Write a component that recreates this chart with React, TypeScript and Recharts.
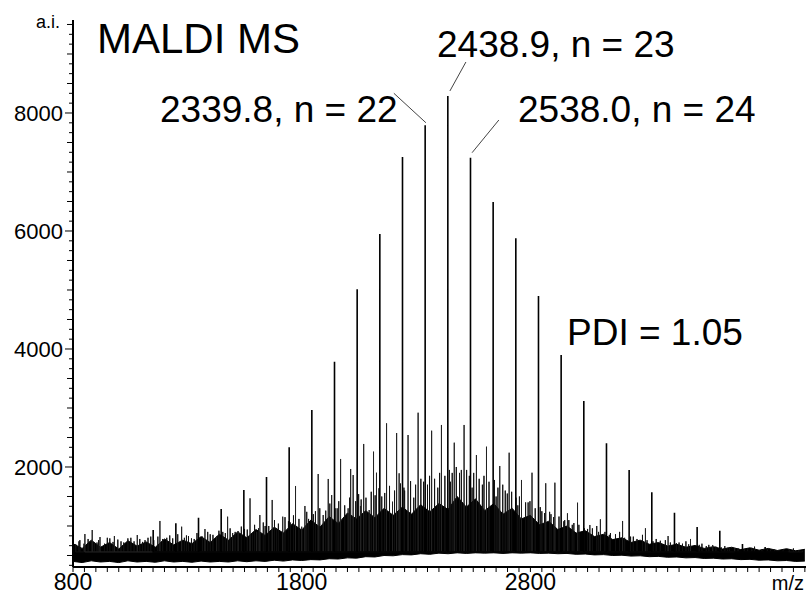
import { ComposedChart, Area, Line, XAxis, YAxis, ReferenceLine } from 'recharts';

// main oligomer series: m/z and intensity (a.i.)
const MAIN_MZ = [
  1150.6, 1249.7, 1348.8, 1447.9, 1547.0, 1646.1, 1745.2, 1844.3, 1943.4, 2042.5,
  2141.6, 2240.7, 2339.8, 2438.9, 2538.0, 2637.1, 2736.2, 2835.3, 2934.4, 3033.5,
  3132.6, 3231.7, 3330.8, 3429.9, 3529.0, 3628.1, 3727.2, 3826.3, 3925.4,
];
const MAIN_AI = [
  932, 1046, 1141, 1288, 1610, 1830, 2334, 2966, 3785, 5012,
  5949, 7254, 7791, 8288, 7242, 6491, 5876, 4898, 3898, 3119,
  2402, 1949, 1571, 1225, 983, 920, 695, 644, 564,
];

// side series / adduct peaks
const SIDE_MZ = [
  852, 884, 918, 981, 1081, 1180, 1275, 1377, 1428, 1476, 1498, 1522, 1574, 1603, 1617,
  1671, 1717, 1773, 1800, 1814, 1872, 1894, 1916, 1931, 1970, 2003, 2014, 2025, 2057,
  2071, 2095, 2114, 2127, 2171, 2197, 2215, 2226, 2265, 2309, 2368, 2411, 2467, 2510,
  2564, 2608, 2666, 2707, 2761, 2807, 2867, 2907, 2962, 3006, 3060, 3106, 3203, 3303,
  3402, 3500, 3597, 3693,
];
const SIDE_AI = [
  864, 932, 813, 830, 847, 1085, 988, 949, 830, 1158, 881, 915, 1469, 903, 1186,
  1441, 1158, 1678, 988, 1339, 1881, 1186, 1797, 1525, 2136, 1300, 1966, 1864, 1339,
  2390, 1271, 2260, 1903, 2740, 1412, 2576, 1893, 2542, 2920, 2615, 2712, 2412, 2712,
  2203, 2344, 2017, 2242, 1780, 1903, 1724, 1734, 1215, 1395, 1017, 1113, 1085, 961,
  830, 780, 678, 627,
];

// small spikes sticking out of the chemical noise
const SPIKE_MZ = [
  812, 826, 830, 848, 866, 893, 905, 912, 938, 950, 961, 975, 996, 1010, 1022,
  1040, 1053, 1067, 1092, 1104, 1115, 1128, 1140, 1153, 1171, 1192, 1210, 1223, 1236,
  1258, 1287, 1296, 1305, 1318, 1330, 1342, 1366, 1389, 1400, 1412, 1438, 1455, 1466,
  1487, 1509, 1536, 1550, 1562, 1585, 1594, 1611, 1632, 1640, 1656, 1681, 1690, 1698,
  1727, 1742, 1750, 1764, 1788, 1822, 1830, 1851, 1860, 1879, 1905, 1923, 1946, 1955,
  1962, 1988, 2009, 2036, 2049, 2060, 2081, 2104, 2121, 2138, 2150, 2163, 2184, 2206,
  2232, 2247, 2250, 2276, 2290, 2298, 2321, 2333, 2350, 2359, 2381, 2395, 2403, 2426,
  2446, 2450, 2458, 2476, 2490, 2498, 2521, 2533, 2545, 2552, 2576, 2590, 2597, 2619,
  2643, 2650, 2658, 2679, 2690, 2699, 2718, 2737, 2745, 2752, 2779, 2790, 2798, 2821,
  2843, 2850, 2862, 2884, 2890, 2901, 2925, 2946, 2950, 2968, 2983, 2990, 3012, 3036,
  3050, 3071, 3090, 3098, 3126, 3145, 3150, 3172, 3190, 3212, 3238, 3250, 3266, 3290,
  3310, 3336, 3350, 3368, 3390, 3412, 3438, 3450, 3465, 3480, 3492, 3538, 3550, 3569,
  3580, 3611, 3634, 3650, 3662, 3670, 3708, 3735, 3750, 3768, 3780, 3812, 3836, 3850,
  3868, 3880, 3905, 3932, 3950, 3972, 3990,
];
const SPIKE_AI = [
  690, 740, 760, 700, 780, 720, 720, 760, 700, 800, 790, 730, 770, 740, 720,
  790, 800, 740, 780, 730, 760, 800, 820, 760, 820, 780, 800, 840, 790,
  860, 800, 840, 830, 790, 780, 880, 820, 900, 860, 850, 920, 900, 880,
  960, 900, 990, 950, 940, 880, 1020, 960, 1060, 1000, 1000, 1100, 960, 1040,
  1150, 1080, 1060, 1180, 1120, 1240, 1120, 1200, 1250, 1300, 1260, 1380, 1300, 1300,
  1420, 1350, 1480, 1420, 1540, 1450, 1480, 1580, 1520, 1640, 1500, 1560, 1680, 1600,
  1720, 1650, 1600, 1760, 1480, 1700, 1800, 1750, 1700, 1850, 1800, 1650, 1900, 1850,
  1950, 1750, 1900, 2000, 1900, 1950, 1950, 1850, 1650, 1900, 1800, 1700, 1850, 1750,
  1780, 1500, 1650, 1700, 1600, 1550, 1580, 1480, 1350, 1500, 1400, 1400, 1420, 1300,
  1320, 1250, 1220, 1240, 1200, 1150, 1160, 1080, 1100, 1100, 1020, 1050, 1020, 960,
  950, 960, 1000, 900, 900, 850, 880, 860, 900, 800, 820, 820, 780, 850,
  760, 740, 780, 750, 760, 720, 710, 720, 700, 740, 690, 680, 700, 660,
  680, 650, 640, 660, 630, 640, 620, 610, 610, 630, 650, 600, 610, 600,
  600, 590, 590, 600, 620, 590, 580,
];

// noise floor envelope
const FLOOR_MZ = [
  800, 840, 880, 920, 960, 1000, 1040, 1080, 1120, 1160, 1200, 1240, 1280, 1320, 1360, 1400,
  1440, 1480, 1520, 1560, 1600, 1640, 1680, 1720, 1760, 1800, 1840, 1880, 1920, 1960, 2000,
  2040, 2080, 2120, 2160, 2200, 2240, 2280, 2320, 2360, 2400, 2440, 2480, 2520, 2560, 2600,
  2640, 2680, 2720, 2760, 2800, 2840, 2880, 2920, 2960, 3000, 3040, 3080, 3120, 3160, 3200,
  3240, 3280, 3320, 3360, 3400, 3440, 3480, 3520, 3560, 3600, 3640, 3680, 3720, 3760, 3800,
  3840, 3880, 3920, 3960, 4000,
];
const FLOOR_LO = [
  400, 380, 410, 390, 400, 380, 410, 390, 400, 385, 410, 390, 400, 385, 405, 390,
  400, 390, 410, 395, 410, 400, 420, 405, 425, 415, 430, 425, 445, 440, 460,
  455, 480, 475, 500, 495, 515, 510, 530, 520, 540, 530, 545, 535, 545, 540,
  545, 535, 545, 540, 545, 535, 540, 530, 535, 520, 525, 510, 515, 500, 505,
  490, 495, 480, 485, 470, 475, 460, 465, 450, 455, 440, 445, 430, 435, 420,
  425, 410, 415, 400, 405,
];
const FLOOR_HI = [
  700, 620, 760, 640, 720, 610, 750, 660, 730, 640, 780, 680, 760, 700, 820, 720,
  860, 760, 900, 800, 940, 840, 980, 880, 1040, 930, 1100, 980, 1160, 1040, 1220,
  1120, 1260, 1140, 1300, 1180, 1320, 1200, 1360, 1240, 1380, 1280, 1500, 1320, 1460, 1260,
  1380, 1200, 1300, 1120, 1180, 1020, 1080, 940, 1000, 880, 920, 820, 860, 770, 800,
  720, 760, 690, 720, 660, 690, 640, 670, 620, 650, 610, 640, 600, 630, 590,
  620, 585, 615, 580, 605,
];

// sticks start from inside the noise floor
const STICK_BASE = 560;

const Y_LABELS = [2000, 4000, 6000, 8000];
const X_LABELS = [800, 1800, 2800];

const Y_STEP = 2000 / 12;
const Y_TICKS = Array.from({ length: 56 }, (_, k) => 2000 + (k - 10) * Y_STEP);
const X_TICKS = Array.from({ length: 65 }, (_, k) => 800 + 50 * k);

const LEADERS = [
  [{ x: 2203, y: 8334 }, { x: 2343, y: 7835 }],
  [{ x: 2518, y: 8864 }, { x: 2448, y: 8373 }],
  [{ x: 2662, y: 7881 }, { x: 2545, y: 7327 }],
];

const FONT = '"Liberation Sans", Arial, sans-serif';

function sticks(mz: number[], ai: number[]) {
  return mz
    .map((m, i) => ({ m, v: ai[i] }))
    .sort((a, b) => a.m - b.m)
    .flatMap(({ m, v }) => [
      { mz: m, ai: STICK_BASE },
      { mz: m, ai: v },
      { mz: m, ai: STICK_BASE },
    ]);
}

const floorData = FLOOR_MZ.map((mz, i) => ({ mz, band: [FLOOR_LO[i], FLOOR_HI[i]] }));
const mainData = sticks(MAIN_MZ, MAIN_AI);
const sideData = sticks(SIDE_MZ, SIDE_AI);
const spikeData = sticks(SPIKE_MZ, SPIKE_AI);

function YTick({ x, y, payload }: any) {
  const k = Math.round((payload.value - 2000) / Y_STEP);
  const major = k % 12 === 0;
  const len = major ? 8 : k % 3 === 0 ? 6 : 4;
  const v = Math.round(payload.value);
  return (
    <g>
      <line x1={x} x2={x - len} y1={y} y2={y} stroke="#000" strokeWidth={1} />
      {Y_LABELS.includes(v) && (
        <text x={x - 10} y={y + 8} textAnchor="end" fontSize={22} fontFamily={FONT} fill="#000">
          {v}
        </text>
      )}
    </g>
  );
}

function XTick({ x, y, payload }: any) {
  const v = payload.value;
  return (
    <g>
      <line x1={x} x2={x} y1={y} y2={y + 5} stroke="#000" strokeWidth={1} />
      {X_LABELS.includes(v) && (
        <text x={x} y={y + 23} textAnchor="middle" fontSize={23} fontFamily={FONT} fill="#000">
          {v}
        </text>
      )}
    </g>
  );
}

export default function App() {
  return (
    <div style={{ position: 'relative', width: 808, height: 595 }}>
      <style>{'html, body { margin: 0; padding: 0; overflow: hidden; }'}</style>
      <ComposedChart width={808} height={595} margin={{ top: 20, right: 2, bottom: 0, left: 0 }}>
        <XAxis
          type="number"
          dataKey="mz"
          domain={[800, 4005]}
          allowDataOverflow
          ticks={X_TICKS}
          interval={0}
          height={28}
          tickSize={0}
          tickMargin={0}
          tickLine={false}
          axisLine={{ stroke: '#000', strokeWidth: 2 }}
          tick={(p: any) => <XTick {...p} />}
        />
        <YAxis
          type="number"
          domain={[305, 9576]}
          allowDataOverflow
          ticks={Y_TICKS}
          interval={0}
          width={73}
          tickSize={0}
          tickMargin={0}
          tickLine={false}
          axisLine={{ stroke: '#000', strokeWidth: 2 }}
          tick={(p: any) => <YTick {...p} />}
        />
        <Area
          data={floorData}
          dataKey="band"
          type="linear"
          stroke="#000"
          strokeWidth={1}
          fill="#000"
          fillOpacity={1}
          dot={false}
          activeDot={false}
          isAnimationActive={false}
        />
        <Line
          data={spikeData}
          dataKey="ai"
          type="linear"
          stroke="#111"
          strokeWidth={1}
          dot={false}
          activeDot={false}
          isAnimationActive={false}
        />
        <Line
          data={sideData}
          dataKey="ai"
          type="linear"
          stroke="#222"
          strokeWidth={1}
          dot={false}
          activeDot={false}
          isAnimationActive={false}
        />
        <Line
          data={mainData}
          dataKey="ai"
          type="linear"
          stroke="#000"
          strokeWidth={1.6}
          dot={false}
          activeDot={false}
          isAnimationActive={false}
        />
        {LEADERS.map((seg, i) => (
          <ReferenceLine key={i} segment={seg} stroke="#444" strokeWidth={1} />
        ))}
      </ComposedChart>
      <svg
        width={808}
        height={595}
        style={{ position: 'absolute', left: 0, top: 0, pointerEvents: 'none' }}
        fontFamily={FONT}
        fill="#000"
      >
        <text x={60} y={28} textAnchor="end" fontSize={18}>a.i.</text>
        <text x={97} y={53} fontSize={42}>MALDI MS</text>
        <text x={437} y={57} fontSize={37}>2438.9, n = 23</text>
        <text x={160} y={122} fontSize={37}>2339.8, n = 22</text>
        <text x={518} y={122} fontSize={37}>2538.0, n = 24</text>
        <text x={567} y={345} fontSize={37}>PDI = 1.05</text>
        <text x={804} y={590} textAnchor="end" fontSize={20}>m/z</text>
      </svg>
    </div>
  );
}
